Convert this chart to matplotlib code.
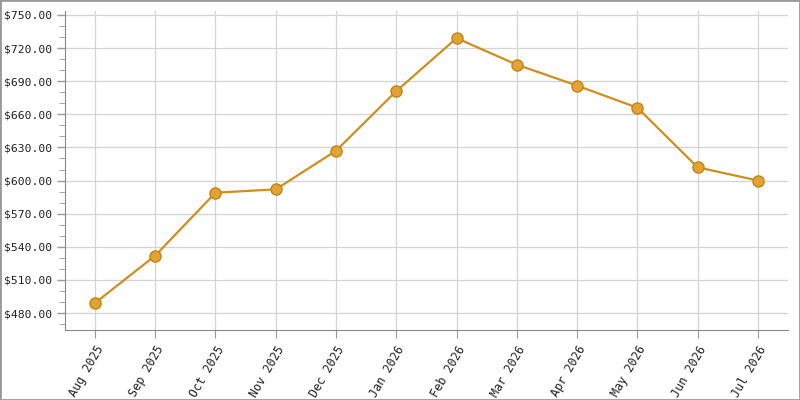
import matplotlib.pyplot as plt
from matplotlib.patches import Rectangle
from matplotlib.ticker import FuncFormatter, MultipleLocator

months = ["Aug 2025", "Sep 2025", "Oct 2025", "Nov 2025", "Dec 2025", "Jan 2026",
          "Feb 2026", "Mar 2026", "Apr 2026", "May 2026", "Jun 2026", "Jul 2026"]
prices = [489, 532, 589, 592, 627, 681, 729, 705, 686, 666, 612, 600]

plt.rcParams["font.family"] = "DejaVu Sans Mono"

fig = plt.figure(figsize=(8, 4), dpi=100)
ax = fig.add_axes([0.081, 0.175, 0.904, 0.7975])

x = list(range(len(months)))
ax.plot(x, prices, color="#d08e1e", linewidth=1.6, zorder=3,
        marker="o", markersize=8, markerfacecolor="#e2a333",
        markeredgecolor="#c0841a", markeredgewidth=1)

ax.set_xlim(-0.5, len(months) - 0.5)
ax.set_ylim(464.6, 753.6)
ax.set_xticks(x)
ax.set_xticklabels(months, rotation=60, ha="right", rotation_mode="anchor", fontsize=8.5)
ax.yaxis.set_major_locator(MultipleLocator(30))
ax.yaxis.set_minor_locator(MultipleLocator(10))
ax.yaxis.set_major_formatter(FuncFormatter(lambda v, p: f"${v:.2f}"))
ax.tick_params(axis="y", labelsize=8.2, length=6, width=1, pad=3)
ax.tick_params(axis="y", which="minor", length=4)
ax.tick_params(axis="x", length=6)
ax.tick_params(axis="both", which="both", color="#999999", labelcolor="#222222")

ax.grid(True, which="major", color="#d4d4d4", linewidth=0.9)
ax.set_axisbelow(True)
for s in ["top", "right"]:
    ax.spines[s].set_visible(False)
for s in ["left", "bottom"]:
    ax.spines[s].set_color("#888888")

fig.patches.append(Rectangle((0, 0), 1, 1, transform=fig.transFigure,
                             fill=False, edgecolor="#999999", linewidth=2))

fig.savefig("out.png", dpi=100)
